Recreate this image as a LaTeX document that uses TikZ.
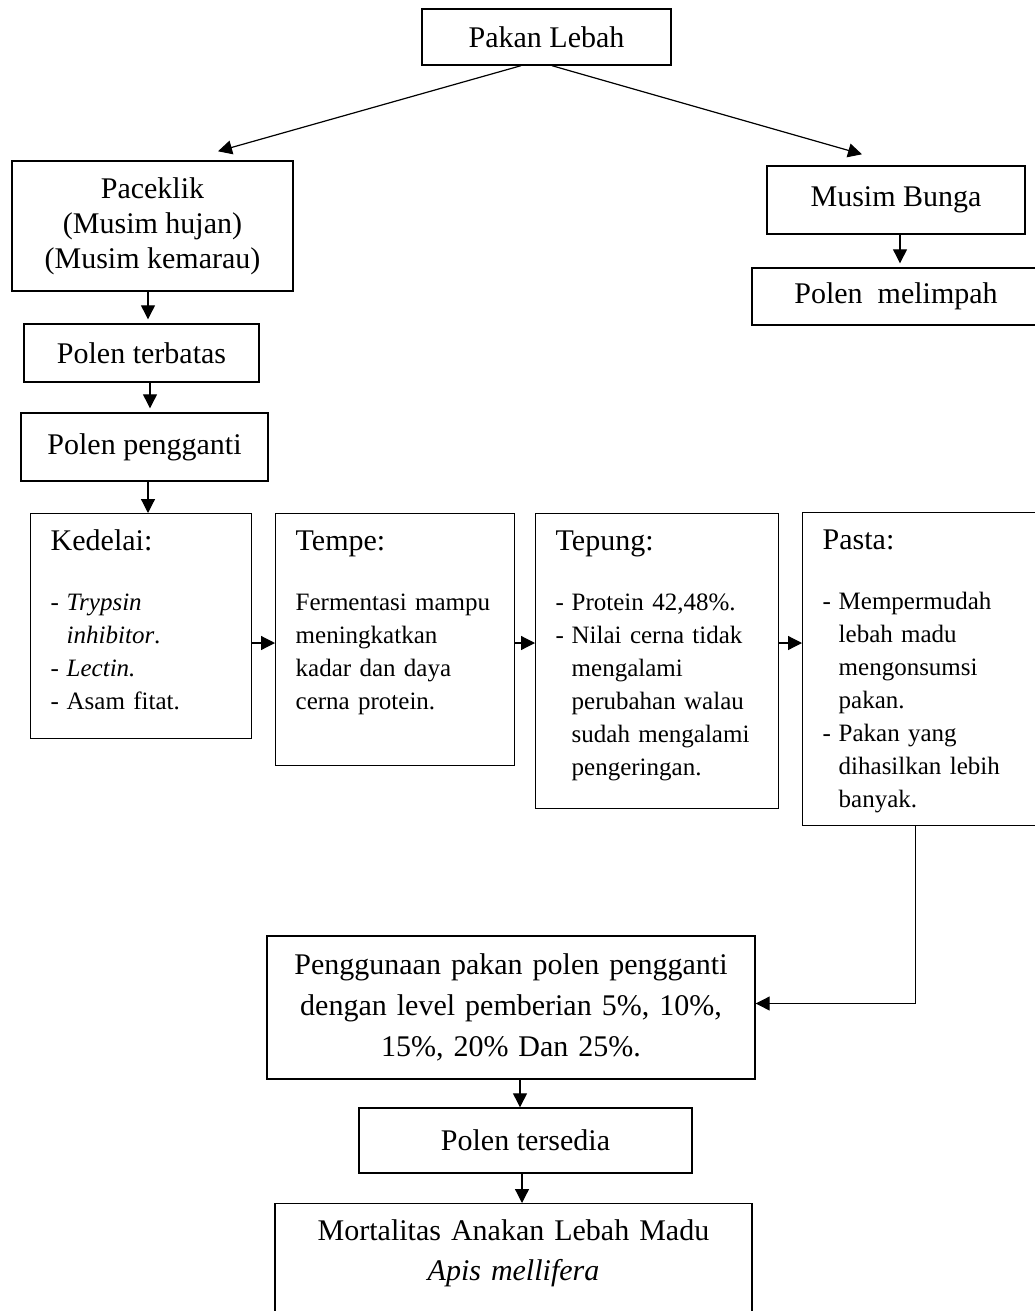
\documentclass[tikz,border=0pt]{standalone}
\usepackage{amsmath}
\usepackage{fontspec}
\setmainfont{Liberation Serif}
\usepackage{tikz}
\usetikzlibrary{arrows.meta}

\begin{document}
\begin{tikzpicture}[x=0.5pt, y=-0.5pt,
    kotak/.style={draw, line width=0.7pt, align=center, font=\fontsize{15}{17.5}\selectfont},
    isi/.style={draw, line width=0.7pt, anchor=north west, align=left, inner xsep=10pt, inner ysep=0pt,
        text height=18.5pt, font=\fontsize{12.5}{16.5}\selectfont},
    panah/.style={-{Triangle[length=7pt,width=7pt]}, line width=0.6pt}]
    \useasboundingbox (0,0) rectangle (1034,1311);

    \node[kotak, minimum width=124.5pt, minimum height=28pt] (Pakan) at (546.5,37) {Pakan Lebah};
    \node[kotak, minimum width=140.5pt, minimum height=65pt] (Paceklik) at (152.5,226)
        {Paceklik\\(Musim hujan)\\(Musim kemarau)};
    \node[kotak, minimum width=129pt, minimum height=34pt] (Bunga) at (896,200) {Musim Bunga};
    \node[kotak, minimum width=144pt, minimum height=28.5pt] (Melimpah) at (896,296.5) {Polen\ \ melimpah};
    \node[kotak, minimum width=117.5pt, minimum height=29pt] (Terbatas) at (141.5,353) {Polen terbatas};
    \node[kotak, minimum width=123.5pt, minimum height=34pt] (Pengganti) at (144.5,447) {Polen pengganti};

    \node[isi, text width=90.5pt, text depth=94pt] (Kedelai) at (30,513)
        {{\fontsize{15}{18}\selectfont Kedelai:}\\[13.5pt]
        \makebox[8pt][l]{-}\textit{Trypsin}\\
        \hspace*{8pt}\textit{inhibitor}.\\
        \makebox[8pt][l]{-}\textit{Lectin.}\\
        \makebox[8pt][l]{-}Asam fitat.};
    \node[isi, text width=99.5pt, text depth=107.5pt] (Tempe) at (275,513)
        {{\fontsize{15}{18}\selectfont Tempe:}\\[13.5pt]
        Fermentasi mampu\\
        meningkatkan\\
        kadar dan daya\\
        cerna protein.};
    \node[isi, text width=101.5pt, text depth=129pt] (Tepung) at (535,513)
        {{\fontsize{15}{18}\selectfont Tepung:}\\[13.5pt]
        \makebox[8pt][l]{-}Protein 42,48\%.\\
        \makebox[8pt][l]{-}Nilai cerna tidak\\
        \hspace*{8pt}mengalami\\
        \hspace*{8pt}perubahan walau\\
        \hspace*{8pt}sudah mengalami\\
        \hspace*{8pt}pengeringan.};
    \node[isi, text width=99pt, text depth=138pt] (Pasta) at (802,512)
        {{\fontsize{15}{18}\selectfont Pasta:}\\[13.5pt]
        \makebox[8pt][l]{-}Mempermudah\\
        \hspace*{8pt}lebah madu\\
        \hspace*{8pt}mengonsumsi\\
        \hspace*{8pt}pakan.\\
        \makebox[8pt][l]{-}Pakan yang\\
        \hspace*{8pt}dihasilkan lebih\\
        \hspace*{8pt}banyak.};

    \node[kotak, minimum width=244pt, minimum height=71.5pt, text width=230pt,
        font=\fontsize{15}{20.5}\selectfont] (Guna) at (511,1007.5)
        {Penggunaan pakan polen pengganti\\dengan level pemberian 5\%, 10\%,\\15\%, 20\% Dan 25\%.};
    \node[kotak, minimum width=166.5pt, minimum height=32.5pt] (Tersedia) at (525.5,1140.5) {Polen tersedia};
    \node[kotak, anchor=north, minimum width=238.5pt, text width=220pt, inner ysep=0pt,
        text height=18.5pt, text depth=60pt, font=\fontsize{15}{20}\selectfont] (Mortal) at (513.5,1203)
        {Mortalitas Anakan Lebah Madu\\\textit{Apis mellifera}};

    \coordinate (Baris) at (0,643);

    \draw[panah] ([xshift=-12.75pt]Pakan.south) -- ([xshift=32.75pt,yshift=4.5pt]Paceklik.north);
    \draw[panah] ([xshift=2.75pt]Pakan.south) -- ([xshift=-17pt,yshift=5.5pt]Bunga.north);
    \draw[panah, shorten >=2pt] ([xshift=2pt]Bunga.south) -- ([xshift=2pt]Bunga.south |- Melimpah.north);
    \draw[panah, shorten >=2pt] ([xshift=-2.25pt]Paceklik.south) -- ([xshift=-2.25pt]Paceklik.south |- Terbatas.north);
    \draw[panah, shorten >=2pt] ([xshift=4.25pt]Terbatas.south) -- ([xshift=4.25pt]Terbatas.south |- Pengganti.north);
    \draw[panah] ([xshift=1.75pt]Pengganti.south) -- ([xshift=1.75pt]Pengganti.south |- Kedelai.north);
    \draw[panah] (Kedelai.east |- Baris) -- (Tempe.west |- Baris);
    \draw[panah] (Tempe.east |- Baris) -- (Tepung.west |- Baris);
    \draw[panah] (Tepung.east |- Baris) -- (Pasta.west |- Baris);
    \draw[panah] ([xshift=-3pt]Pasta.south) |- ([yshift=2pt]Guna.east);
    \draw[panah] ([xshift=4.5pt]Guna.south) -- ([xshift=4.5pt]Guna.south |- Tersedia.north);
    \draw[panah] ([xshift=-1.75pt]Tersedia.south) -- ([xshift=-1.75pt]Tersedia.south |- Mortal.north);
\end{tikzpicture}
\end{document}
